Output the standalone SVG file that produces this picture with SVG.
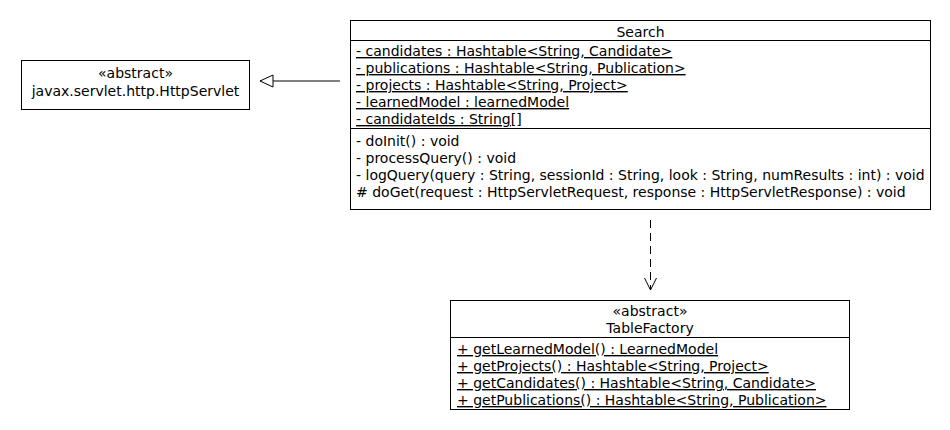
<svg xmlns="http://www.w3.org/2000/svg" width="950" height="430" viewBox="0 0 950 430">
<style>
.box{fill:#fff;stroke:#000;stroke-width:1}
.sep{stroke:#000;stroke-width:1}
text{font-family:"DejaVu Sans","Noto Sans",sans-serif;font-size:14px;fill:#000}
.c{text-anchor:middle}
.u{text-decoration:underline}
.conn{fill:none;stroke:#000;stroke-width:1}
</style>
<defs>
<marker id="tri" markerWidth="16" markerHeight="16" refX="14" refY="7" orient="auto" markerUnits="userSpaceOnUse">
<path d="M1,1 L14,7 L1,13 Z" fill="#fff" stroke="#000" stroke-width="1"/>
</marker>
<marker id="open" markerWidth="16" markerHeight="16" refX="13" refY="7" orient="auto" markerUnits="userSpaceOnUse">
<path d="M1,1 L13,7 L1,13" fill="none" stroke="#000" stroke-width="1"/>
</marker>
</defs>
<rect width="950" height="430" fill="#fff"/>
<g id="connectors">
<line class="conn" x1="340" y1="81" x2="260" y2="81" marker-end="url(#tri)"/>
<line class="conn" x1="650.5" y1="220" x2="650.5" y2="290" stroke-dasharray="8,5" marker-end="url(#open)"/>
</g>
<g id="HttpServlet">
<rect class="box" x="21.5" y="60.5" width="228" height="49"/>
<text class="c" x="135.5" y="78">«abstract»</text>
<text class="c" x="135.5" y="96">javax.servlet.http.HttpServlet</text>
</g>
<g id="Search">
<rect class="box" x="350.5" y="20.5" width="580" height="189"/>
<line class="sep" x1="350.5" y1="40.5" x2="930.5" y2="40.5"/>
<line class="sep" x1="350.5" y1="128.5" x2="930.5" y2="128.5"/>
<text class="c" x="640.5" y="37">Search</text>
<text class="u" x="356" y="56">- candidates : Hashtable&lt;String, Candidate&gt;</text>
<text class="u" x="356" y="73">- publications : Hashtable&lt;String, Publication&gt;</text>
<text class="u" x="356" y="90">- projects : Hashtable&lt;String, Project&gt;</text>
<text class="u" x="356" y="107">- learnedModel : learnedModel</text>
<text class="u" x="356" y="124">- candidateIds : String[]</text>
<text x="356" y="146">- doInit() : void</text>
<text x="356" y="163">- processQuery() : void</text>
<text x="356" y="180">- logQuery(query : String, sessionId : String, look : String, numResults : int) : void</text>
<text x="356" y="197"># doGet(request : HttpServletRequest, response : HttpServletResponse) : void</text>
</g>
<g id="TableFactory">
<rect class="box" x="450.5" y="300.5" width="399" height="109"/>
<line class="sep" x1="450.5" y1="337.5" x2="849.5" y2="337.5"/>
<text class="c" x="650" y="316">«abstract»</text>
<text class="c" x="650" y="333">TableFactory</text>
<text class="u" x="457" y="354">+ getLearnedModel() : LearnedModel</text>
<text class="u" x="457" y="371">+ getProjects() : Hashtable&lt;String, Project&gt;</text>
<text class="u" x="457" y="388">+ getCandidates() : Hashtable&lt;String, Candidate&gt;</text>
<text class="u" x="457" y="405">+ getPublications() : Hashtable&lt;String, Publication&gt;</text>
</g>
</svg>
